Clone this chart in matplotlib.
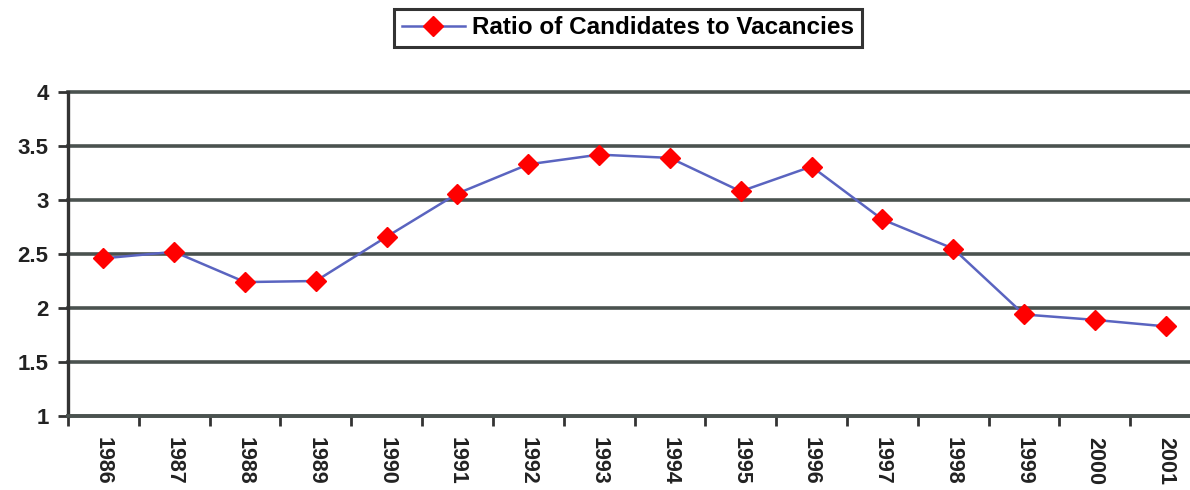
import matplotlib
matplotlib.use("Agg")
import matplotlib.pyplot as plt
from matplotlib.ticker import MultipleLocator, FixedLocator

years = ["1986", "1987", "1988", "1989", "1990", "1991", "1992", "1993",
         "1994", "1995", "1996", "1997", "1998", "1999", "2000", "2001"]
ratio = [2.46, 2.52, 2.24, 2.25, 2.66, 3.06, 3.33, 3.42,
         3.39, 3.08, 3.31, 2.82, 2.55, 1.94, 1.89, 1.83]
series_name = "Ratio of Candidates to Vacancies"

plt.rcParams['font.family'] = ['Liberation Sans', 'DejaVu Sans']

fig = plt.figure(figsize=(11.9, 4.9), dpi=100)
ax = fig.add_axes([68/1190, 1-416/490, 1133/1190, 324/490])

x = list(range(len(years)))
line, = ax.plot(x, ratio, color='#5a64c0', lw=1.8, marker='D', markersize=10,
                markerfacecolor='#ff0000', markeredgecolor='#ff0000', label=series_name,
                zorder=3, clip_on=False)

ax.set_xlim(-0.5, len(years) - 0.5)
ax.set_ylim(1, 4)
ax.yaxis.set_major_locator(MultipleLocator(0.5))
ax.set_yticklabels([f"{v:g}" for v in ax.get_yticks()])
ax.set_xticks(x)
ax.set_xticklabels(years, rotation=-90, fontsize=15.5, fontweight='bold', color='#222222')
ax.xaxis.set_minor_locator(FixedLocator([i - 0.5 for i in range(len(years) + 1)]))
ax.tick_params(axis='x', which='major', length=0, pad=15)
ax.tick_params(axis='x', which='minor', length=7, width=2, color='#333333', direction='out')
ax.tick_params(axis='y', length=7, width=2, color='#333333', labelsize=16, pad=7)
for lab in ax.get_yticklabels():
    lab.set_fontweight('bold')
    lab.set_color('#222222')

ax.grid(axis='y', color='#4a524f', lw=2.6)
for gl in ax.get_ygridlines():
    gl.set_clip_on(False)
ax.set_axisbelow(True)
for s in ['top', 'right']:
    ax.spines[s].set_visible(False)
ax.spines['left'].set_linewidth(2.4)
ax.spines['left'].set_color('#333333')
ax.spines['bottom'].set_linewidth(2.6)
ax.spines['bottom'].set_color('#4a524f')

leg = fig.legend(handles=[line], loc='center', bbox_to_anchor=(628/1190, 1-28/490),
                 frameon=True, fancybox=False, edgecolor='#333333', framealpha=1,
                 prop={'weight': 'bold', 'size': 17.5}, handlelength=2.6,
                 handletextpad=0.3, borderpad=0.3, borderaxespad=0)
leg.get_frame().set_linewidth(2.2)

fig.savefig("out.png", dpi=100)
